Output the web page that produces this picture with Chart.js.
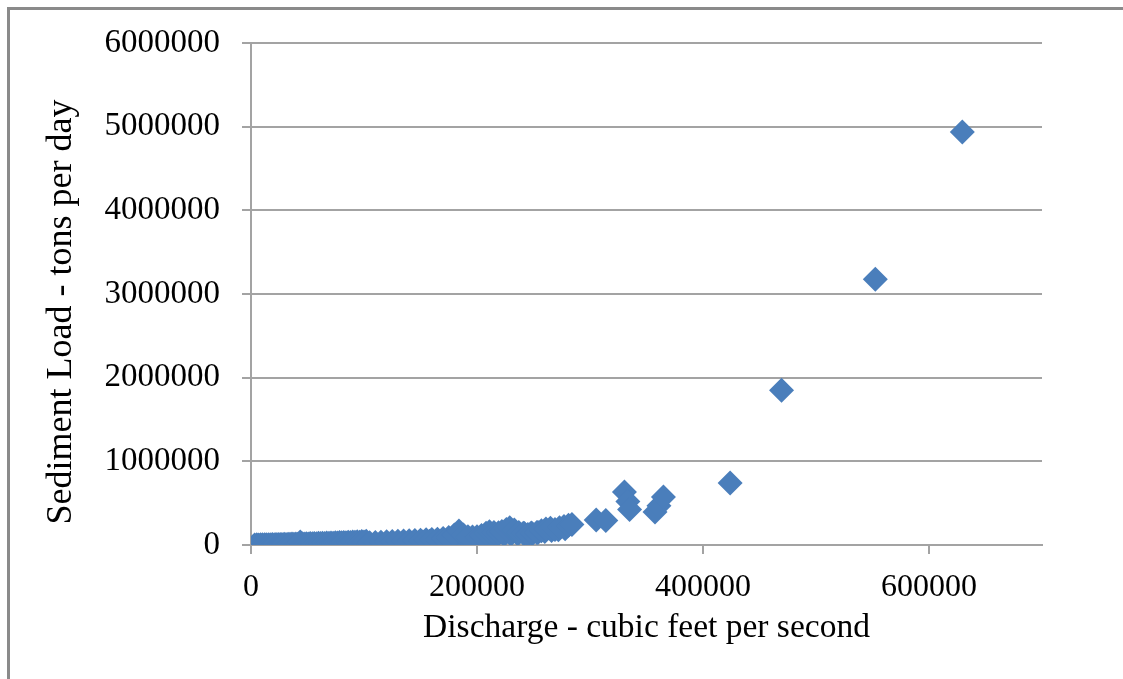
<!DOCTYPE html>
<html>
<head>
<meta charset="utf-8">
<script src="https://cdn.jsdelivr.net/npm/chart.js@4.4.1/dist/chart.umd.min.js"></script>
<style>
  html, body { margin: 0; padding: 0; background: #ffffff; }
  #wrap { position: relative; width: 1123px; height: 679px; overflow: hidden; background: #fff; }
  #frame { position: absolute; left: 7px; top: 7px; width: 1200px; height: 800px;
           border-left: 3px solid #8a8a8a; border-top: 3px solid #8a8a8a; pointer-events: none; }
  canvas { position: absolute; left: 0; top: 0; }
</style>
</head>
<body>
<div id="wrap">
  <canvas id="c" width="1123" height="679"></canvas>
  <div id="frame"></div>
</div>
<script>
// Discharge (cubic feet per second) values
const discharge = [
  3200, 5100, 6800, 8500, 10200, 12000, 13500, 15300, 17000, 18800,
  20500, 22100, 24000, 25800, 27400, 29300, 31000, 32800, 34500, 36300,
  38000, 39700, 41500, 43600, 45200, 47000, 48900, 50600, 52400, 54300,
  56000, 57900, 59700, 61500, 63300, 65200, 67000, 69000, 70800, 72700,
  74600, 76500, 78300, 80200, 82100, 84000, 86000, 88000, 90000, 92000,
  94000, 96100, 98000, 100000, 102000,
  104000, 110000, 116000, 122000, 128000, 134000, 140000, 146000, 152000, 158000,
  164000, 170000, 176000, 182000, 188000, 194000, 200000, 206000, 212000, 218000,
  224000, 230000, 236000, 242000, 248000, 254000, 260000, 266000, 272000, 278000,
  105000, 110000, 115000, 120000, 125000, 130000, 135000, 140000, 145000, 150000,
  155000, 160000, 165000, 170000, 175000, 180000, 184000, 188000, 192000, 196000,
  200000, 204000, 208000, 211000, 215000, 219000, 222000, 226000, 229000, 233000,
  237000, 241000, 245000, 249000, 253000, 257000, 261000, 265000, 269000, 273000,
  277000, 281000, 284000,
  305500, 314000, 330500, 333500, 335000, 357500, 361000, 365000, 424000, 469500,
  552500, 629500
];
// Sediment load (tons per day) values
const sedimentLoad = [
  800, 1500, 900, 2100, 1800, 3200, 2600, 4100, 3000, 5200,
  4400, 6100, 5000, 7300, 6200, 8500, 7100, 9700, 8300, 11000,
  9400, 12600, 10200, 36000, 13800, 11900, 15200, 13400, 16800, 14900,
  18300, 16000, 19800, 17400, 21500, 18900, 23200, 20400, 25100, 22000,
  27000, 23800, 29100, 25500, 31200, 27400, 33500, 29300, 35800, 31500,
  38400, 33600, 41000, 36000, 43500,
  4000, 6500, 8000, 10500, 12000, 18000, 24000, 30000, 36000, 44000,
  52000, 62000, 70000, 64000, 68000, 66000, 75000, 88000, 102000, 118000,
  124000, 128000, 132000, 138000, 142000, 150000, 160000, 172000, 182000, 195000,
  28000, 31000, 34000, 38000, 41000, 45000, 48000, 52000, 55000, 58000,
  62000, 66000, 70000, 78000, 90000, 120000, 168000, 120000, 100000, 96000,
  98000, 115000, 140000, 158000, 150000, 145000, 160000, 185000, 205000, 180000,
  150000, 140000, 125000, 135000, 150000, 170000, 192000, 200000, 185000, 205000,
  220000, 235000, 245000,
  300000, 292000, 632000, 520000, 425000, 395000, 470000, 575000, 740000, 1850000,
  3175000, 4935000
];
// Tick values
const xTickValues = [0, 200000, 400000, 600000];
const yTickValues = [0, 1000000, 2000000, 3000000, 4000000, 5000000, 6000000];
const xTitle = "Discharge - cubic feet per second";
const yTitle = "Sediment Load - tons per day";

const points = discharge.map((x, i) => ({ x: x, y: sedimentLoad[i] }));

const FONT = "'Liberation Serif', 'Times New Roman', serif";
const GRID = '#a3a3a3';

new Chart(document.getElementById('c'), {
  type: 'scatter',
  data: {
    datasets: [{
      data: points,
      pointStyle: 'rectRot',
      pointRadius: 12.5,
      pointHoverRadius: 12.5,
      backgroundColor: '#4a7ebb',
      borderColor: '#4a7ebb',
      borderWidth: 0
    }]
  },
  options: {
    responsive: false,
    animation: false,
    devicePixelRatio: 1,
    layout: { padding: { left: 0, top: 43, right: 81, bottom: 0 } },
    plugins: { legend: { display: false }, tooltip: { enabled: false } },
    scales: {
      x: {
        type: 'linear',
        min: 0, max: 700000,
        afterFit: s => { s.height = 134; },
        afterBuildTicks: s => { s.ticks = xTickValues.map(v => ({ value: v })); },
        ticks: { padding: 14, color: '#000', autoSkip: false,
                 font: { family: FONT, size: 32 }, maxRotation: 0,
                 callback: v => String(v) },
        grid: { drawOnChartArea: false, drawTicks: true, tickLength: 9, color: GRID, lineWidth: 2 },
        border: { display: true, color: GRID, width: 2 },
        title: { display: true, text: xTitle, color: '#000',
                 font: { family: FONT, size: 33.5 }, padding: { top: 0, bottom: 31 } }
      },
      y: {
        type: 'linear',
        min: 0, max: 6000000,
        afterFit: s => { s.width = 251; },
        afterBuildTicks: s => { s.ticks = yTickValues.map(v => ({ value: v })); },
        ticks: { padding: 22, color: '#000', autoSkip: false,
                 font: { family: FONT, size: 33 },
                 callback: v => String(v) },
        grid: { drawOnChartArea: true, drawTicks: true, tickLength: 9, color: GRID, lineWidth: 2 },
        border: { display: true, color: GRID, width: 2 },
        title: { display: true, text: yTitle + "    ", color: '#000',
                 font: { family: FONT, size: 36 }, padding: { top: 40, bottom: 0 } }
      }
    }
  },
  plugins: [{
    id: 'bg',
    beforeDraw(chart) {
      const ctx = chart.ctx;
      ctx.save();
      ctx.fillStyle = '#fff';
      ctx.fillRect(0, 0, chart.width, chart.height);
      ctx.restore();
    }
  }]
});
</script>
</body>
</html>
